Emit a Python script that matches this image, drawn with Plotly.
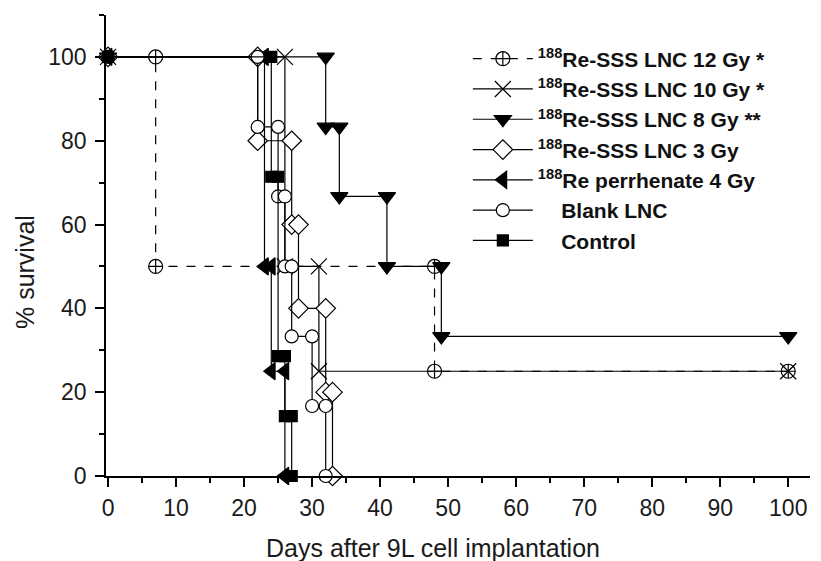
import plotly.graph_objects as go

# ---- data (Kaplan-Meier steps: event day -> % survival after the event) ----
days_12gy = [0, 7, 48, 100]
surv_12gy = [100, 50, 25, 25]

days_10gy = [0, 26, 31, 100]
surv_10gy = [100, 50, 25, 25]

days_8gy = [0, 32, 34, 41, 49, 100]
surv_8gy = [100, 83.3, 66.7, 50, 33.3, 33.3]

days_3gy = [0, 22, 27, 28, 32, 33]
surv_3gy = [100, 80, 60, 40, 20, 0]

days_perr = [0, 23, 24, 26]
surv_perr = [100, 50, 25, 0]

days_blank = [0, 22, 25, 26, 27, 30, 32]
surv_blank = [100, 83.3, 66.7, 50, 33.3, 16.7, 0]

days_ctrl = [0, 24, 25, 26, 27]
surv_ctrl = [100, 71.4, 28.6, 14.3, 0]

names = [
    "<b><sup>188</sup>Re-SSS LNC 12 Gy *</b>",
    "<b><sup>188</sup>Re-SSS LNC 10 Gy *</b>",
    "<b><sup>188</sup>Re-SSS LNC 8 Gy **</b>",
    "<b><sup>188</sup>Re-SSS LNC 3 Gy</b>",
    "<b><sup>188</sup>Re perrhenate 4 Gy</b>",
    "<b>\u00a0\u00a0\u00a0\u00a0Blank LNC</b>",
    "<b>\u00a0\u00a0\u00a0\u00a0Control</b>",
]

x_ticks = list(range(0, 101, 10))
y_ticks = list(range(0, 101, 20))
x_title = "Days after 9L cell implantation"
y_title = "% survival"


def steps(days, surv):
    xs, ys = [days[0]], [surv[0]]
    for i in range(1, len(days)):
        if surv[i] != surv[i - 1]:
            xs.append(days[i]); ys.append(surv[i - 1])
        xs.append(days[i]); ys.append(surv[i])
    return xs, ys


series = [
    (days_12gy, surv_12gy, "circle-cross", "white", 14, "dash"),
    (days_10gy, surv_10gy, "x-thin-open", "black", 16, "solid"),
    (days_8gy, surv_8gy, "triangle-down", "black", 15, "solid"),
    (days_3gy, surv_3gy, "diamond", "white", 15, "solid"),
    (days_perr, surv_perr, "triangle-left", "black", 15, "solid"),
    (days_blank, surv_blank, "circle", "white", 13, "solid"),
    (days_ctrl, surv_ctrl, "square", "black", 11, "solid"),
]

fig = go.Figure()
for (d, s, sym, fill, size, dash), name in zip(series, names):
    xs, ys = steps(d, s)
    fig.add_trace(go.Scatter(
        x=xs, y=ys, mode="lines+markers", name=name,
        line=dict(color="black", width=1.2, dash=dash),
        marker=dict(symbol=sym, size=size, color=fill if sym != "x-thin-open" else "black",
                    line=dict(color="black", width=1.2)),
        cliponaxis=False,
    ))

font_family = "Liberation Sans, Arial, sans-serif"
tickfont = dict(family=font_family, size=23, color="#1a1a1a")
fig.update_layout(
    width=813, height=553,
    margin=dict(l=98, r=11, t=7, b=85),
    paper_bgcolor="white", plot_bgcolor="white",
    font=dict(family=font_family, size=21, color="#1a1a1a"),
    showlegend=True,
    legend=dict(x=0.514, y=0.949, xanchor="left", yanchor="top",
                bgcolor="rgba(0,0,0,0)", font=dict(size=21, color="#111"),
                itemwidth=60, tracegroupgap=0),
    xaxis=dict(range=[-0.3, 103.2], tickvals=x_ticks, ticks="outside", ticklen=9,
               tickwidth=1.5, tickcolor="black", showline=True, linecolor="black",
               linewidth=1.5, showgrid=False, zeroline=False, automargin=False,
               tickfont=tickfont, ticklabelstandoff=2,
               minor=dict(dtick=5, tick0=0, ticks="outside", ticklen=5, tickwidth=1.5,
                          tickcolor="black", showgrid=False)),
    yaxis=dict(range=[0, 110], tickvals=y_ticks, ticks="outside", ticklen=9,
               tickwidth=1.5, tickcolor="black", showline=True, linecolor="black",
               linewidth=1.5, showgrid=False, zeroline=False, automargin=False,
               tickfont=tickfont, ticklabelstandoff=4,
               minor=dict(dtick=10, tick0=0, ticks="outside", ticklen=5, tickwidth=1.5,
                          tickcolor="black", showgrid=False)),
    annotations=[
        dict(text=x_title, xref="paper", yref="paper", x=0.464, y=-0.156,
             xanchor="center", yanchor="middle", showarrow=False,
             font=dict(size=25, color="#1a1a1a")),
        dict(text=y_title, xref="paper", yref="paper", x=-0.115, y=0.4425,
             xanchor="center", yanchor="middle", showarrow=False, textangle=-90,
             font=dict(size=25, color="#1a1a1a")),
    ],
)

fig.write_html("out.html")
